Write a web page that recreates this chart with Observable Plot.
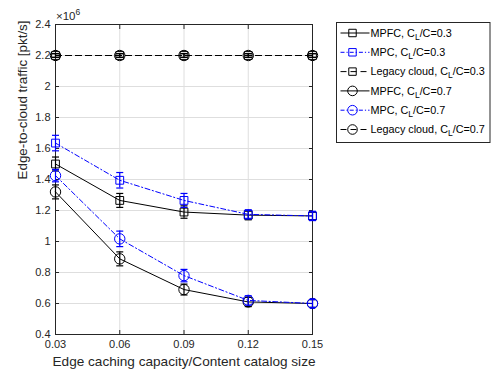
<!DOCTYPE html>
<html>
<head>
<meta charset="utf-8">
<script src="https://cdn.jsdelivr.net/npm/d3@7"></script>
<script src="https://cdn.jsdelivr.net/npm/@observablehq/plot@0.6"></script>
<style>
  html, body { margin: 0; padding: 0; background: #fff; }
  #chart { width: 493px; height: 373px; }
</style>
</head>
<body>
<div id="chart"></div>
<script>
// ---- data (values in units of 10^6 pkt/s) ----
const xValues = [0.03, 0.06, 0.09, 0.12, 0.15];
const xTicks = [0.03, 0.06, 0.09, 0.12, 0.15];
const yTicks = [0.4, 0.6, 0.8, 1.0, 1.2, 1.4, 1.6, 1.8, 2.0, 2.2, 2.4];

const mpfc03 = [1.50, 1.265, 1.19, 1.17, 1.165];
const mpfc03Err = [0.045, 0.045, 0.04, 0.03, 0.025];
const mpc03 = [1.635, 1.395, 1.265, 1.175, 1.165];
const mpc03Err = [0.05, 0.05, 0.045, 0.03, 0.03];
const legacy03 = [2.2, 2.2, 2.2, 2.2, 2.2];
const legacy03Err = [0.012, 0.012, 0.012, 0.012, 0.012];
const mpfc07 = [1.32, 0.888, 0.69, 0.61, 0.60];
const mpfc07Err = [0.045, 0.045, 0.035, 0.03, 0.025];
const mpc07 = [1.425, 1.017, 0.78, 0.62, 0.60];
const mpc07Err = [0.04, 0.05, 0.04, 0.03, 0.025];
const legacy07 = [2.2, 2.2, 2.2, 2.2, 2.2];
const legacy07Err = [0.012, 0.012, 0.012, 0.012, 0.012];

const seriesNames = ["MPFC", "MPC", "Legacy cloud", "MPFC", "MPC", "Legacy cloud"];
const seriesRatio = ["0.3", "0.3", "0.3", "0.7", "0.7", "0.7"];

const BLUE = "#0000ff", BLACK = "#000000";
const DASH_SOLID = null, DASH_DOT = "5,2.5,1.2,2.5", DASH_DASH = "6,4";

const series = [
  {name: seriesNames[0], ratio: seriesRatio[0], values: mpfc03, errs: mpfc03Err, color: BLACK, dash: DASH_SOLID, symbol: "square"},
  {name: seriesNames[1], ratio: seriesRatio[1], values: mpc03, errs: mpc03Err, color: BLUE, dash: DASH_DOT, symbol: "square"},
  {name: seriesNames[2], ratio: seriesRatio[2], values: legacy03, errs: legacy03Err, color: BLACK, dash: DASH_DASH, symbol: "square"},
  {name: seriesNames[3], ratio: seriesRatio[3], values: mpfc07, errs: mpfc07Err, color: BLACK, dash: DASH_SOLID, symbol: "circle"},
  {name: seriesNames[4], ratio: seriesRatio[4], values: mpc07, errs: mpc07Err, color: BLUE, dash: DASH_DOT, symbol: "circle"},
  {name: seriesNames[5], ratio: seriesRatio[5], values: legacy07, errs: legacy07Err, color: BLACK, dash: DASH_DASH, symbol: "circle"}
];

const capSymbol = {
  draw(context, size) {
    const w = Math.sqrt(size / Math.PI);
    context.moveTo(-w, 0);
    context.lineTo(w, 0);
  }
};

const FONT = "'Liberation Sans', Arial, Helvetica, sans-serif";
const TXT = "#262626";

const seriesMarks = series.flatMap((s) => {
  const rows = xValues.map((x, i) => ({x, y: s.values[i], lo: s.values[i] - s.errs[i], hi: s.values[i] + s.errs[i]}));
  return [
    Plot.line(rows, {x: "x", y: "y", stroke: s.color, strokeWidth: 1, strokeDasharray: s.dash || undefined}),
    Plot.ruleX(rows, {x: "x", y1: "lo", y2: "hi", stroke: s.color, strokeWidth: 1.2}),
    Plot.dot(rows, {x: "x", y: "lo", symbol: capSymbol, r: 3.5, fill: "none", stroke: s.color, strokeWidth: 1.2}),
    Plot.dot(rows, {x: "x", y: "hi", symbol: capSymbol, r: 3.5, fill: "none", stroke: s.color, strokeWidth: 1.2}),
    Plot.dot(rows, {x: "x", y: "y", symbol: s.symbol, r: s.symbol === "square" ? 4.4 : 5.2, fill: "none", stroke: s.color, strokeWidth: 1})
  ];
});

const chart = Plot.plot({
  width: 493,
  height: 373,
  marginLeft: 55,
  marginRight: 181,
  marginTop: 24,
  marginBottom: 39,
  style: {fontFamily: FONT, fontSize: "11px", color: TXT, background: "#fff"},
  x: {domain: [0.03, 0.15]},
  y: {domain: [0.4, 2.4]},
  marks: [
    Plot.gridX(xTicks, {stroke: "#dedede", strokeOpacity: 1}),
    Plot.gridY(yTicks, {stroke: "#dedede", strokeOpacity: 1}),
    Plot.axisX(xTicks, {anchor: "bottom", tickSize: 0, tickPadding: 6, tickFormat: (d) => d.toFixed(2), label: null, fill: TXT, fontSize: 11}),
    Plot.axisX(xTicks, {anchor: "bottom", tickSize: 4, dy: -4, tickFormat: () => "", label: null, stroke: TXT}),
    Plot.axisX(xTicks, {anchor: "top", tickSize: 4, dy: 4, tickFormat: () => "", label: null, stroke: TXT}),
    Plot.axisY(yTicks, {anchor: "left", tickSize: 0, tickPadding: 5, tickFormat: (d) => String(+d.toFixed(1)), label: null, fill: TXT, fontSize: 11}),
    Plot.axisY(yTicks, {anchor: "left", tickSize: 4, dx: 4, tickFormat: () => "", label: null, stroke: TXT}),
    Plot.axisY(yTicks, {anchor: "right", tickSize: 4, dx: -4, tickFormat: () => "", label: null, stroke: TXT}),
    Plot.frame({stroke: TXT, strokeWidth: 1}),
    ...seriesMarks,
    Plot.text(["Edge caching capacity/Content catalog size"], {frameAnchor: "bottom", dy: 31, fill: TXT, fontSize: 13.6}),
    Plot.text(["Edge-to-cloud traffic [pkt/s]"], {frameAnchor: "left", rotate: -90, dx: -33, fill: TXT, fontSize: 13.4})
  ]
});

document.getElementById("chart").appendChild(chart);

// exponent label and legend overlay
const svg = d3.select(chart);
const exp = svg.append("text").attr("x", 56).attr("y", 20).attr("fill", TXT)
  .attr("text-anchor", "start")
  .style("font-family", FONT).style("font-size", "11.5px");
exp.append("tspan").text("×10");
exp.append("tspan").attr("dy", -5).style("font-size", "8.5px").text("6");

const lg = svg.append("g").attr("text-anchor", "start");
const lx = 336.5, ly = 22.5, lw = 153.5, lh = 120;
lg.append("rect").attr("x", lx).attr("y", ly).attr("width", lw).attr("height", lh)
  .attr("fill", "#fff").attr("stroke", TXT).attr("stroke-width", 1);
series.forEach((s, i) => {
  const cy = ly + 10.5 + i * 19.3;
  const g = lg.append("g");
  g.append("line").attr("x1", lx + 4).attr("x2", lx + 33).attr("y1", cy).attr("y2", cy)
    .attr("stroke", s.color).attr("stroke-width", 1)
    .attr("stroke-dasharray", s.dash === DASH_DOT ? "4,2,1.2,2" : s.dash === DASH_DASH ? "6,4" : null);
  const sym = d3.symbol(s.symbol === "square" ? d3.symbolSquare : d3.symbolCircle,
    Math.PI * Math.pow(s.symbol === "square" ? 4.2 : 4.8, 2));
  g.append("path").attr("d", sym()).attr("transform", `translate(${lx + 16},${cy})`)
    .attr("fill", "none").attr("stroke", s.color).attr("stroke-width", 1);
  const t = g.append("text").attr("x", lx + 34).attr("y", cy + 3.7).attr("fill", "#000")
    .attr("text-anchor", "start")
    .style("font-family", FONT).style("font-size", "10.8px");
  t.append("tspan").text(`${s.name}, C`);
  t.append("tspan").attr("dy", 3).style("font-size", "8.5px").text("L");
  t.append("tspan").attr("dy", -3).text(`/C=${s.ratio}`);
});
</script>
</body>
</html>
